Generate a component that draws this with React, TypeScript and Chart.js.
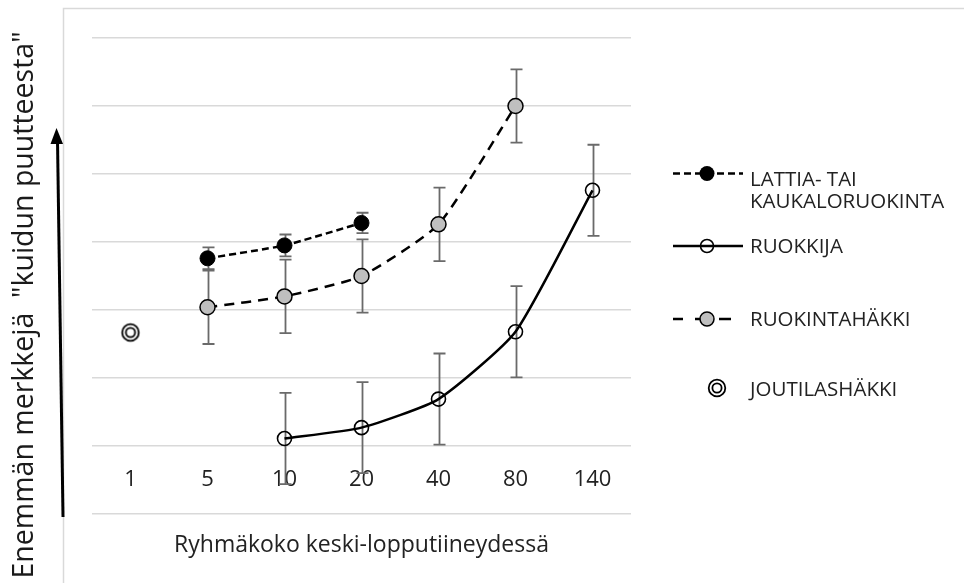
import React, { useEffect, useRef } from 'react';
import { Chart, registerables } from 'chart.js';

Chart.register(...registerables);

// Group size categories (x axis)
const groupSizes = ['1', '5', '10', '20', '40', '80', '140'];

// Series means and error margins
const floorFeeding = [null, 3.76, 3.95, 4.28, null, null, null];
const floorFeedingErr = [null, 0.16, 0.16, 0.15, null, null, null];
const feeder = [null, null, 1.11, 1.27, 1.69, 2.68, 4.76];
const feederErr = [null, null, 0.67, 0.67, 0.67, 0.67, 0.67];
const feedingCage = [null, 3.04, 3.2, 3.5, 4.26, 6.0, null];
const feedingCageErr = [null, 0.54, 0.54, 0.54, 0.54, 0.54, null];
const idleCage = [2.67, null, null, null, null, null, null];

const seriesNames = ['LATTIA- TAI KAUKALORUOKINTA', 'RUOKKIJA', 'RUOKINTAHÄKKI', 'JOUTILASHÄKKI'];
const yTitle = 'Enemmän merkkejä  "kuidun puutteesta"';
const xTitle = 'Ryhmäkoko keski-lopputiineydessä';

const FONT = "'Open Sans', 'Liberation Sans', sans-serif";
const TEXT = '#222222';

function makeDoubleCircle(): HTMLCanvasElement {
  const c = document.createElement('canvas');
  c.width = 22;
  c.height = 22;
  const g = c.getContext('2d')!;
  g.strokeStyle = '#000';
  g.lineWidth = 1.8;
  g.beginPath();
  g.arc(11, 11, 8.3, 0, Math.PI * 2);
  g.stroke();
  g.beginPath();
  g.arc(11, 11, 4.6, 0, Math.PI * 2);
  g.stroke();
  return c;
}

const errorBars = {
  id: 'errorBars',
  beforeDatasetsDraw(chart: any, _args: any, opts: any) {
    const { ctx, scales } = chart;
    const xs = scales.x;
    const ys = scales.y;
    const errs: (number | null)[][] = opts.errors || [];
    ctx.save();
    ctx.strokeStyle = '#6a6a6a';
    ctx.lineWidth = 1.8;
    chart.data.datasets.forEach((ds: any, di: number) => {
      const e = errs[di];
      if (!e) return;
      ds.data.forEach((v: number | null, i: number) => {
        const d = e[i];
        if (v == null || d == null) return;
        const px = Math.round(xs.getPixelForValue(i)) + 0.5;
        const top = ys.getPixelForValue(v + d);
        const bot = ys.getPixelForValue(v - d);
        ctx.beginPath();
        ctx.moveTo(px, top);
        ctx.lineTo(px, bot);
        ctx.moveTo(px - 6, top);
        ctx.lineTo(px + 6, top);
        ctx.moveTo(px - 6, bot);
        ctx.lineTo(px + 6, bot);
        ctx.stroke();
      });
    });
    ctx.restore();
  },
};

const frameAndLegend = {
  id: 'frameAndLegend',
  beforeDraw(chart: any) {
    const { ctx, width, height } = chart;
    ctx.save();
    ctx.fillStyle = '#ffffff';
    ctx.fillRect(0, 0, width, height);
    ctx.strokeStyle = '#d9d9d9';
    ctx.lineWidth = 1.5;
    ctx.beginPath();
    ctx.moveTo(63.5, height + 5);
    ctx.lineTo(63.5, 8.5);
    ctx.lineTo(width + 5, 8.5);
    ctx.stroke();
    ctx.restore();
  },
  afterDraw(chart: any, _args: any, opts: any) {
    const { ctx } = chart;
    const marker: HTMLCanvasElement = opts.marker;
    ctx.save();

    // vertical axis caption with arrow
    ctx.fillStyle = '#1a1a1a';
    ctx.font = `28.5px ${FONT}`;
    ctx.textAlign = 'center';
    ctx.textBaseline = 'alphabetic';
    ctx.translate(33, 305);
    ctx.rotate(-Math.PI / 2);
    ctx.fillText(yTitle, 0, 0);
    ctx.setTransform(1, 0, 0, 1, 0, 0);

    ctx.strokeStyle = '#000';
    ctx.fillStyle = '#000';
    ctx.lineWidth = 3;
    ctx.beginPath();
    ctx.moveTo(63, 517);
    ctx.lineTo(57.5, 140);
    ctx.stroke();
    ctx.beginPath();
    ctx.moveTo(56.5, 128);
    ctx.lineTo(63, 144);
    ctx.lineTo(50.5, 144);
    ctx.closePath();
    ctx.fill();

    // legend
    const lx0 = 673;
    const lx1 = 743;
    const mx = 707;
    ctx.lineWidth = 2.5;

    // entry 1: dashed line, black dot
    ctx.setLineDash([7, 4]);
    ctx.beginPath();
    ctx.moveTo(lx0, 173.5);
    ctx.lineTo(lx1, 173.5);
    ctx.stroke();
    ctx.setLineDash([]);
    ctx.beginPath();
    ctx.arc(mx, 173.5, 7.5, 0, Math.PI * 2);
    ctx.fill();

    // entry 2: solid line, open circle
    ctx.beginPath();
    ctx.moveTo(lx0, 246);
    ctx.lineTo(lx1, 246);
    ctx.stroke();
    ctx.lineWidth = 1.6;
    ctx.beginPath();
    ctx.arc(mx, 246, 6.5, 0, Math.PI * 2);
    ctx.stroke();

    // entry 3: long dashes, grey dot
    ctx.lineWidth = 2.5;
    ctx.beginPath();
    ctx.moveTo(673, 319);
    ctx.lineTo(683, 319);
    ctx.moveTo(695, 319);
    ctx.lineTo(703, 319);
    ctx.moveTo(719, 319);
    ctx.lineTo(731, 319);
    ctx.stroke();
    ctx.fillStyle = '#bfbfbf';
    ctx.lineWidth = 1.5;
    ctx.beginPath();
    ctx.arc(mx, 319, 7, 0, Math.PI * 2);
    ctx.fill();
    ctx.stroke();

    // entry 4: double circle
    ctx.drawImage(marker, 717 - marker.width / 2, 388 - marker.height / 2);

    ctx.fillStyle = TEXT;
    ctx.font = `20.5px ${FONT}`;
    ctx.textAlign = 'left';
    ctx.textBaseline = 'alphabetic';
    const first = seriesNames[0].split(' TAI ');
    ctx.fillText(first[0] + ' TAI', 750, 185.5);
    ctx.fillText(first[1], 750, 207.5);
    ctx.fillText(seriesNames[1], 750, 252.5);
    ctx.fillText(seriesNames[2], 750, 326);
    ctx.fillText(seriesNames[3], 750, 395.5);
    ctx.restore();
  },
};

export default function App() {
  const ref = useRef<HTMLCanvasElement | null>(null);

  useEffect(() => {
    if (!ref.current) return;
    const marker = makeDoubleCircle();
    const chart = new Chart(ref.current, {
      type: 'line',
      data: {
        labels: groupSizes,
        datasets: [
          {
            label: seriesNames[0],
            data: floorFeeding,
            borderColor: '#000',
            borderWidth: 2.5,
            borderDash: [7, 4],
            pointRadius: 7.5,
            pointBackgroundColor: '#000',
            pointBorderColor: '#000',
            pointBorderWidth: 1,
            tension: 0.15,
          },
          {
            label: seriesNames[1],
            data: feeder,
            borderColor: '#000',
            borderWidth: 2.5,
            pointRadius: 7,
            pointBackgroundColor: 'rgba(0,0,0,0)',
            pointBorderColor: '#000',
            pointBorderWidth: 1.6,
            tension: 0.18,
          },
          {
            label: seriesNames[2],
            data: feedingCage,
            borderColor: '#000',
            borderWidth: 2.5,
            borderDash: [10, 7],
            pointRadius: 7.5,
            pointBackgroundColor: '#bfbfbf',
            pointBorderColor: '#000',
            pointBorderWidth: 1.5,
            tension: 0.18,
          },
          {
            label: seriesNames[3],
            data: idleCage,
            showLine: false,
            pointStyle: marker,
            pointRadius: 9,
          },
        ],
      },
      options: {
        responsive: false,
        animation: false,
        events: [],
        devicePixelRatio: 1,
        layout: { padding: { left: 92, right: 333, top: 38, bottom: 69 } },
        plugins: {
          legend: { display: false },
          tooltip: { enabled: false },
          errorBars: { errors: [floorFeedingErr, feederErr, feedingCageErr, null] },
          frameAndLegend: { marker },
        } as any,
        scales: {
          x: {
            type: 'category',
            offset: true,
            position: { y: 1 } as any,
            grid: { display: false },
            border: { display: false },
            ticks: {
              font: { family: FONT, size: 22 },
              color: TEXT,
              padding: 13,
              maxRotation: 0,
              autoSkip: false,
            },
            title: {
              display: true,
              text: xTitle,
              font: { family: FONT, size: 23 },
              color: TEXT,
              padding: { top: 25, bottom: 0 },
            },
          },
          y: {
            min: 0,
            max: 7,
            ticks: { display: false, stepSize: 1 },
            border: { display: false },
            grid: { color: '#d9d9d9', lineWidth: 1.5, drawTicks: false },
          },
        },
      },
      plugins: [errorBars, frameAndLegend],
    });
    return () => chart.destroy();
  }, []);

  return (
    <div style={{ position: 'fixed', left: 0, top: 0, width: 964, height: 583, background: '#fff' }}>
      <canvas ref={ref} width={964} height={583} style={{ display: 'block' }} />
    </div>
  );
}
